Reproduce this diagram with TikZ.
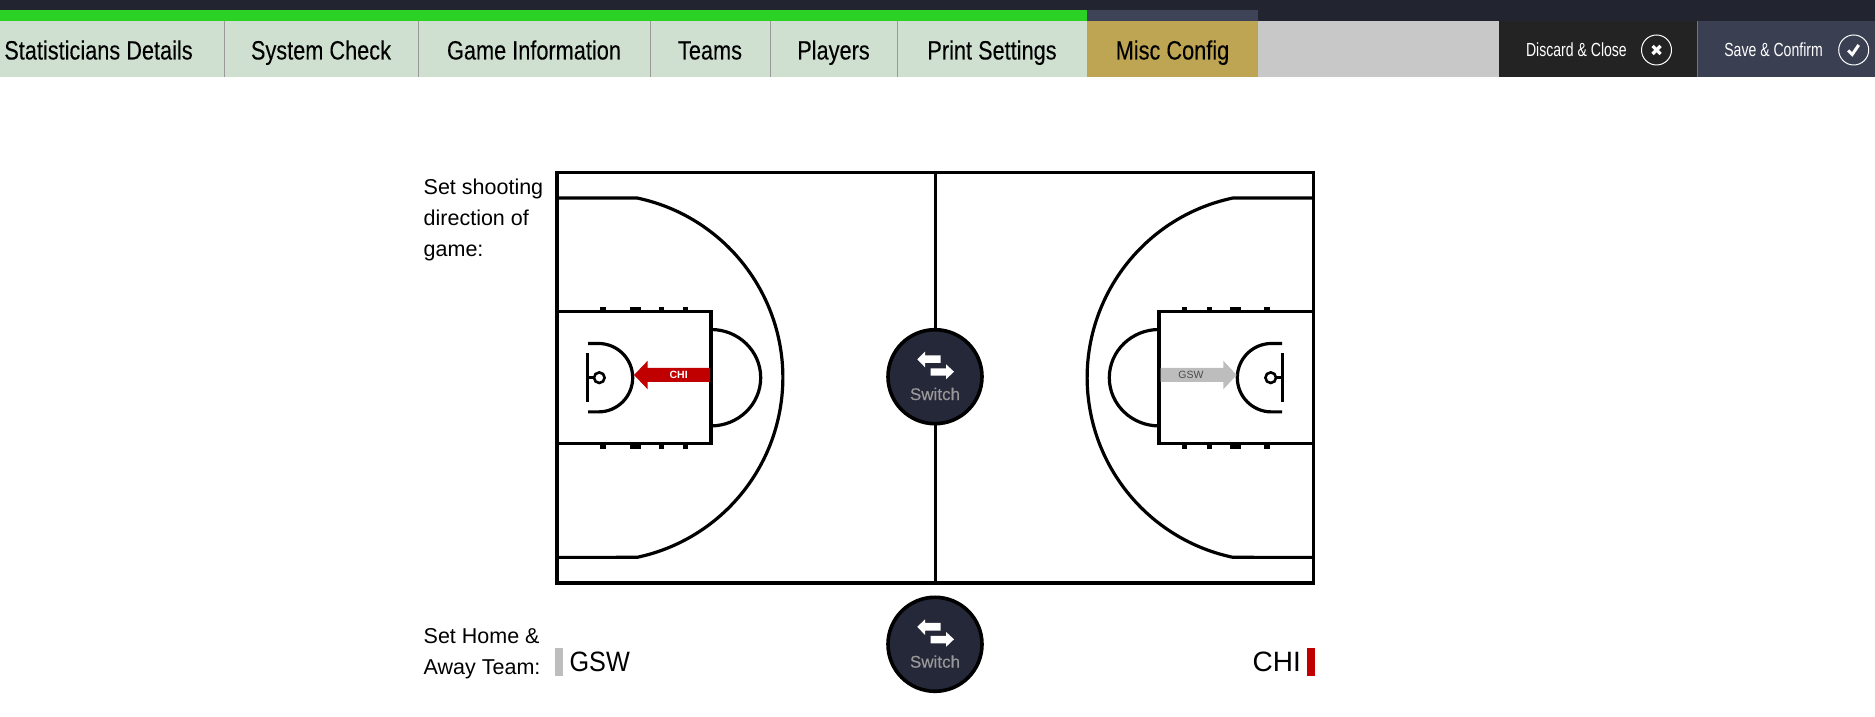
\documentclass[tikz,border=0pt]{standalone}
\usepackage{fontspec}
\setmainfont{Liberation Sans}
\newfontfamily\condfont[FakeStretch=0.82,FakeBold=0.12]{Liberation Sans}
\newfontfamily\namefont[FakeStretch=0.9]{Liberation Sans}
\newfontfamily\thinfont[FakeStretch=0.74]{Liberation Sans}
\newfontfamily\switchfont[FakeBold=0.15]{Liberation Sans}
\usetikzlibrary{positioning}
\definecolor{topdark}{HTML}{22242F}
\definecolor{slatebar}{HTML}{3F4358}
\definecolor{stepgreen}{HTML}{2BD124}
\definecolor{tabgreen}{HTML}{CFE0D1}
\definecolor{tabgold}{HTML}{BDA553}
\definecolor{restgray}{HTML}{C8C8C8}
\definecolor{discardblack}{HTML}{232323}
\definecolor{confirmslate}{HTML}{3A3F52}
\definecolor{switchnavy}{HTML}{252838}
\definecolor{teamred}{HTML}{C00000}
\definecolor{teamgray}{HTML}{BDBDBD}
\tikzset{
  tabbox/.style={fill=tabgreen,minimum height=56,inner sep=0,outer sep=0,text height=22.5,text depth=2.5,font=\condfont\fontsize{26.5}{26.5}\selectfont},
  actionbox/.style={minimum height=56,inner sep=0,outer sep=0},
  actiontext/.style={text=white,inner sep=0,font=\thinfont\fontsize{19}{19}\selectfont},
  actionring/.style={circle,draw=white,line width=1,minimum size=30,inner sep=0},
  courtline/.style={line width=3.6},
  keyline/.style={line width=3.2},
  sidelabel/.style={anchor=west,inner sep=0,align=left,font=\fontsize{21.5}{31}\selectfont},
  teamname/.style={inner sep=0,font=\fontsize{28}{28}\selectfont}
}
\begin{document}
\begin{tikzpicture}[x=1pt,y=1pt]
	\useasboundingbox (0,0) rectangle (1875,717);
	% header
	\fill[topdark] (0,695.5) rectangle (1875,717);
	\node[tabbox,anchor=north west,minimum width=251] (stats) at (-27,695.5) {Statisticians Details};
	\node[tabbox,minimum width=194,right=0pt of stats] (syscheck) {System Check};
	\node[tabbox,minimum width=232,right=0pt of syscheck] (gameinfo) {Game Information};
	\node[tabbox,minimum width=120,right=0pt of gameinfo] (teams) {Teams};
	\node[tabbox,minimum width=127,right=0pt of teams] (players) {Players};
	\node[tabbox,minimum width=190,right=0pt of players] (print) {Print Settings};
	\node[tabbox,fill=tabgold,minimum width=171,right=0pt of print] (misc) {Misc Config};
	\node[actionbox,fill=restgray,minimum width=241,right=0pt of misc] (rest) {};
	\node[actionbox,fill=discardblack,minimum width=198,right=0pt of rest] (discard) {};
	\node[actionbox,fill=confirmslate,minimum width=178,right=0pt of discard] (confirm) {};
	\fill[stepgreen] (stats.north west) rectangle ([yshift=11.5]misc.north west);
	\fill[slatebar] (misc.north west) rectangle ([yshift=11.5]misc.north east);
	\foreach \tabname in {syscheck,gameinfo,teams,players,print}
		\draw[black!40,line width=0.8] (\tabname.north west) -- (\tabname.south west);
	\draw[white!45!black,line width=0.8] (confirm.north west) -- (confirm.south west);
	\node[actiontext,anchor=east] (discardtext) at (1627,667) {Discard \& Close};
	\node[actionring] (discardring) at (1656.5,667) {};
	\draw[white,line width=3.2] ([shift={(-4,-4)}]discardring.center) -- ([shift={(4,4)}]discardring.center);
	\draw[white,line width=3.2] ([shift={(-4,4)}]discardring.center) -- ([shift={(4,-4)}]discardring.center);
	\node[actiontext,anchor=east] (confirmtext) at (1823,667) {Save \& Confirm};
	\node[actionring] (confirmring) at (1853.7,667) {};
	\draw[white,line width=3] ([shift={(-5.5,-0.5)}]confirmring.center) -- ([shift={(-1.5,-4.5)}]confirmring.center) -- ([shift={(5,5)}]confirmring.center);
	% court
	\draw[courtline] (556.7,134) rectangle (1313.3,544.3);
	\draw[line width=3] (935,134) -- (935,544.3);
	\foreach \side in {-1,1}
	{
		\begin{scope}[shift={(935,339.3)},xscale=\side]
			\draw[keyline] (378.3,179.7) -- (298,179.7) arc[start angle=101.87,end angle=258.13,radius=183.6] -- (378.3,-179.7);
			\draw[keyline] (378.3,66.2) -- (224,66.2) -- (224,-66.2) -- (378.3,-66.2);
			\draw[keyline] (224,48.2) arc[start angle=90,end angle=270,x radius=49.7,y radius=48.2];
			\draw[keyline] (347,34.2) -- (336.5,34.2) arc[start angle=90,end angle=270,radius=34.2] -- (347,-34.2);
			\draw[keyline] (347.3,24.5) -- (347.3,-24.5);
			\draw[keyline] (347.3,0) -- (341,0);
			\draw[line width=2.6] (335.7,0) circle[radius=5.3];
			\foreach \tickx/\tickw in {249.8/5,274/5,300/11,332.2/5.7}
			{
				\fill (\tickx-\tickw/2,66.2) rectangle (\tickx+\tickw/2,71);
				\fill (\tickx-\tickw/2,-66.2) rectangle (\tickx+\tickw/2,-71);
			}
		\end{scope}
	}
	% direction arrows
	\fill[teamred] (710,335) -- (647.7,335) -- (647.7,327.7) -- (634,342) -- (647.7,356.3) -- (647.7,349) -- (710,349) -- cycle;
	\node[text=white,inner sep=0,font=\bfseries\fontsize{10.5}{10.5}\selectfont] (chilabel) at (678.7,342) {CHI};
	\fill[teamgray] (1160.7,335) -- (1223.3,335) -- (1223.3,327.7) -- (1236.7,342) -- (1223.3,356.3) -- (1223.3,349) -- (1160.7,349) -- cycle;
	\node[text=black!70,inner sep=0,font=\fontsize{10.5}{10.5}\selectfont] (gswlabel) at (1191,342) {GSW};
	% switch buttons
	\foreach \btn/\btny in {courtswitch/340.3,teamswitch/72.7}
	{
		\node[circle,fill=switchnavy,draw=black,line width=3.6,minimum size=94,inner sep=0] (\btn) at (935,\btny) {};
		\fill[white,shift={(\btn.center)}] (-17.7,17.4) -- (-10,25) -- (-10,21.4) -- (5.7,21.4) -- (5.7,13.7) -- (-10,13.7) -- (-10,9.4) -- cycle;
		\fill[white,shift={(\btn.center)}] (19,5) -- (11,12.4) -- (11,8.4) -- (-4.3,8.4) -- (-4.3,1) -- (11,1) -- (11,-2.6) -- cycle;
		\node[text=white!60!black,inner sep=0,font=\switchfont\fontsize{17}{17}\selectfont] (\btn text) at ([yshift=-17.3]\btn.center) {Switch};
	}
	% side labels
	\node[sidelabel] (shootlabel) at (423.5,497) {Set shooting\\direction of\\game:};
	\node[sidelabel] (homelabel) at (423.5,63.5) {Set Home \&\\Away Team:};
	\fill[teamgray] (555,41) rectangle (563,69);
	\node[teamname,anchor=west] (gswname) at (569.4,55) {\namefont GSW};
	\fill[teamred] (1307,41) rectangle (1315,69);
	\node[teamname,anchor=east] (chiname) at (1301,55) {CHI};
\end{tikzpicture}
\end{document}
